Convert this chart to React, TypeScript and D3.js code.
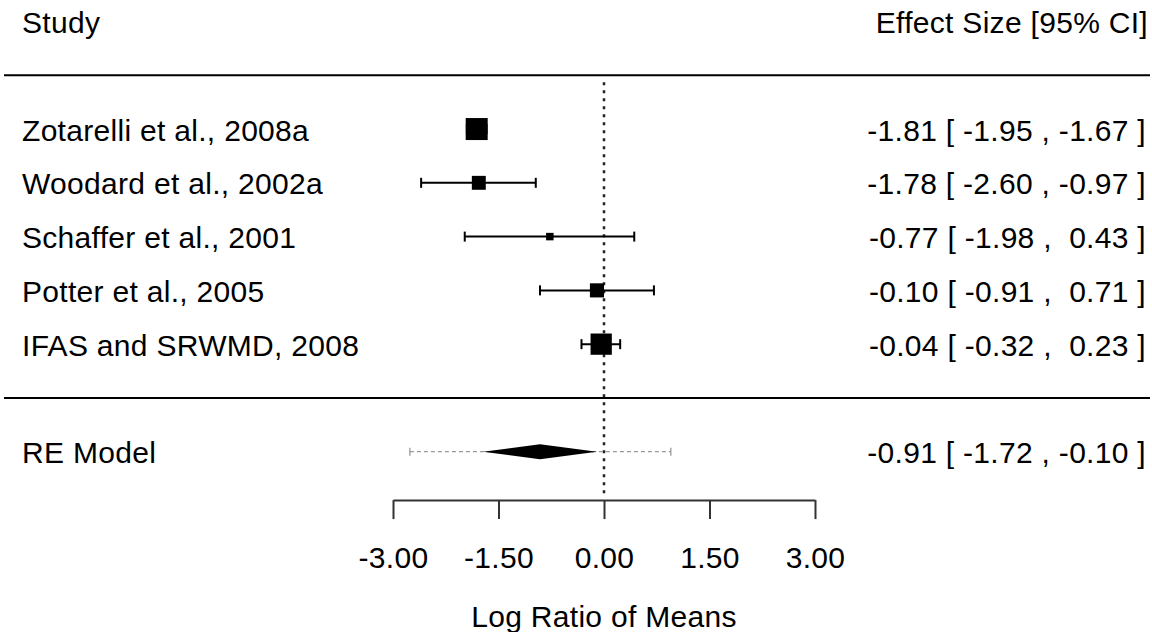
import React, { useEffect, useRef } from "react";
import { select, scaleLinear, axisBottom, extent } from "d3";

// study level data (log ratio of means)
const studies = [
    "Zotarelli et al., 2008a",
    "Woodard et al., 2002a",
    "Schaffer et al., 2001",
    "Potter et al., 2005",
    "IFAS and SRWMD, 2008",
];
const estimates = [-1.81, -1.78, -0.77, -0.1, -0.04];
const lowerCI = [-1.95, -2.6, -1.98, -0.91, -0.32];
const upperCI = [-1.67, -0.97, 0.43, 0.71, 0.23];
const weights = [23.4, 19.0, 15.5, 19.1, 23.0]; // RE weights (%)

// random effects summary
const summaryLabel = "RE Model";
const summaryEstimate = -0.91;
const summaryCI = [-1.72, -0.1];
const predictionInterval = [-2.76, 0.95];

const xTicks = [-3, -1.5, 0, 1.5, 3];
const xLabel = "Log Ratio of Means";

const WIDTH = 1152;
const HEIGHT = 632;
const FONT = "'Liberation Sans', Arial, sans-serif";

// plain hyphen minus, like R output
const fmt = (v: number) => v.toFixed(2);
const pad = (v: number) => fmt(v).padStart(5, " ");
const annot = (est: number, lb: number, ub: number) =>
    `${pad(est)} [ ${pad(lb)} , ${pad(ub)} ]`;

const ForestPlot = () => {
    const svgRef = useRef<SVGSVGElement>(null);

    useEffect(() => {
        const svg = select(svgRef.current);
        svg.selectAll("*").remove();

        const x = scaleLinear().domain([-3, 3]).range([393, 815]);
        // rows: header at 7, studies 5..1, summary at -1
        const y = scaleLinear().domain([7, -1]).range([21.5, 451.7]);
        const size = scaleLinear()
            .domain(extent(weights) as [number, number])
            .range([7.5, 22]);

        const axisY = y(-1.9);
        const textDy = 11.5;

        const text = (tx: number, ty: number, s: string, anchor = "start") =>
            svg
                .append("text")
                .attr("x", tx)
                .attr("y", ty + textDy)
                .attr("text-anchor", anchor)
                .attr("font-family", FONT)
                .attr("font-size", 30)
                .attr("letter-spacing", 0.3)
                .attr("fill", "#000")
                .style("white-space", "pre")
                .text(s);

        // header
        text(22, y(7), "Study");
        text(1148, y(7), "Effect Size [95% CI]", "end");

        // horizontal separators
        [6, 0].forEach((r) => {
            svg
                .append("line")
                .attr("x1", 4)
                .attr("x2", 1150)
                .attr("y1", y(r))
                .attr("y2", y(r))
                .attr("stroke", "#000")
                .attr("stroke-width", 2);
        });

        // reference line at 0
        svg
            .append("line")
            .attr("x1", x(0))
            .attr("x2", x(0))
            .attr("y1", y(5.87))
            .attr("y2", axisY - 3)
            .attr("stroke", "#222")
            .attr("stroke-width", 2.5)
            .attr("stroke-dasharray", "3,5");

        // studies
        studies.forEach((name, i) => {
            const row = studies.length - i;
            const cy = y(row);
            const g = svg.append("g");
            g.append("line")
                .attr("x1", x(lowerCI[i]))
                .attr("x2", x(upperCI[i]))
                .attr("y1", cy)
                .attr("y2", cy)
                .attr("stroke", "#000")
                .attr("stroke-width", 2);
            [lowerCI[i], upperCI[i]].forEach((v) => {
                g.append("line")
                    .attr("x1", x(v))
                    .attr("x2", x(v))
                    .attr("y1", cy - 5)
                    .attr("y2", cy + 5)
                    .attr("stroke", "#000")
                    .attr("stroke-width", 2);
            });
            const s = size(weights[i]);
            g.append("rect")
                .attr("x", x(estimates[i]) - s / 2)
                .attr("y", cy - s / 2)
                .attr("width", s)
                .attr("height", s)
                .attr("fill", "#000");

            text(22, cy, name);
            text(1146, cy, annot(estimates[i], lowerCI[i], upperCI[i]), "end");
        });

        // summary: prediction interval + diamond
        const sy = y(-1);
        svg
            .append("line")
            .attr("x1", x(predictionInterval[0]))
            .attr("x2", x(predictionInterval[1]))
            .attr("y1", sy)
            .attr("y2", sy)
            .attr("stroke", "#999")
            .attr("stroke-width", 1.3)
            .attr("stroke-dasharray", "4,3");
        predictionInterval.forEach((v) => {
            svg
                .append("line")
                .attr("x1", x(v))
                .attr("x2", x(v))
                .attr("y1", sy - 4)
                .attr("y2", sy + 4)
                .attr("stroke", "#999")
                .attr("stroke-width", 1.3);
        });
        const h = 7.5;
        const diamond = [
            [x(summaryCI[0]), sy],
            [x(summaryEstimate), sy - h],
            [x(summaryCI[1]), sy],
            [x(summaryEstimate), sy + h],
        ];
        svg
            .append("polygon")
            .attr("points", diamond.map((p) => p.join(",")).join(" "))
            .attr("fill", "#000");

        text(22, sy, summaryLabel);
        text(1146, sy, annot(summaryEstimate, summaryCI[0], summaryCI[1]), "end");

        // x axis
        const axis = svg
            .append("g")
            .attr("transform", `translate(0,${axisY})`)
            .call(
                axisBottom(x)
                    .tickValues(xTicks)
                    .tickFormat((d) => fmt(d as number))
                    .tickSize(19)
                    .tickSizeOuter(0)
                    .tickPadding(28)
            );
        axis.selectAll("path, line").attr("stroke", "#333").attr("stroke-width", 2);
        axis
            .selectAll("text")
            .attr("font-family", FONT)
            .attr("font-size", 30)
            .attr("letter-spacing", 0.3)
            .attr("fill", "#000");

        svg
            .append("text")
            .attr("x", x(0))
            .attr("y", 627)
            .attr("text-anchor", "middle")
            .attr("font-family", FONT)
            .attr("font-size", 30)
            .attr("letter-spacing", 0.3)
            .attr("fill", "#000")
            .text(xLabel);
    }, []);

    return (
        <svg
            ref={svgRef}
            width={WIDTH}
            height={HEIGHT}
            style={{ position: "absolute", left: 0, top: 0, background: "#fff" }}
        />
    );
};

export default function App() {
    return <ForestPlot />;
}
